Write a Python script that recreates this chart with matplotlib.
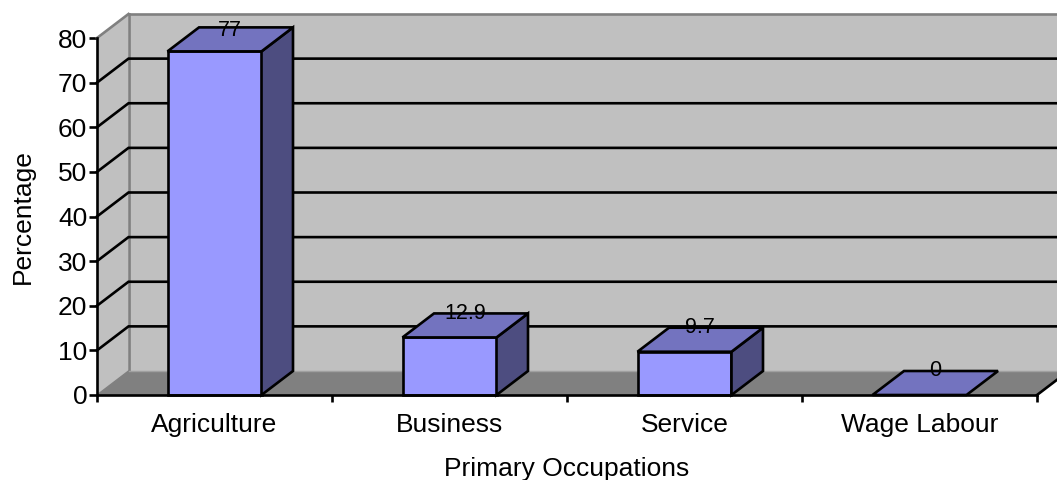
import matplotlib
matplotlib.use('Agg')
import matplotlib.pyplot as plt
from matplotlib.patches import Polygon

plt.rcParams['font.family'] = ['Liberation Sans', 'DejaVu Sans']

occupations = ['Agriculture', 'Business', 'Service', 'Wage Labour']
percentages = [77, 12.9, 9.7, 0]
value_labels = ['77', '12.9', '9.7', '0']
y_ticks = [0, 10, 20, 30, 40, 50, 60, 70, 80]

W, H = 1057, 480
fig = plt.figure(figsize=(W / 100, H / 100), dpi=100)
# front plane of the 3D box, in figure fractions
ax = fig.add_axes([97 / W, 1 - 395 / H, 940 / W, 357 / H])
ax.set_xlim(0, 4)
ax.set_ylim(0, 80)
ax.patch.set_visible(False)

# depth of the box in data units
dx = 31.5 / 235
dy = 24 / (357 / 80)
bar_w = 0.4
lw = 1.9
label_top = 81.6


def face(points, color, edge='none', width=0, z=1):
    ax.add_patch(Polygon(points, closed=True, facecolor=color, edgecolor=edge,
                         linewidth=width, clip_on=False, zorder=z, joinstyle='miter'))


# walls and floor
face([(dx, dy), (4.2, dy), (4.2, 80 + dy), (dx, 80 + dy)], '#c0c0c0')
face([(0, 0), (dx, dy), (dx, 80 + dy), (0, 80)], '#c0c0c0')
face([(0, 0), (4, 0), (4 + dx, dy), (dx, dy)], '#808080', z=1.1)

ax.plot([dx, dx], [dy, 80 + dy], color='#808080', lw=lw, clip_on=False, zorder=2)
ax.plot([dx, 4.2], [80 + dy, 80 + dy], color='#808080', lw=lw, clip_on=False, zorder=2)
ax.plot([0, dx], [80, 80 + dy], color='#808080', lw=lw, clip_on=False, zorder=2)
ax.plot([0, dx], [0, dy], color='#808080', lw=1, clip_on=False, zorder=2)
ax.plot([dx, 4.2], [dy, dy], color='#a0a0a0', lw=1, clip_on=False, zorder=2)
ax.plot([4, 4 + dx], [0, dy], color='black', lw=lw, clip_on=False, zorder=2)

# gridlines across the side wall and the back wall
for v in y_ticks[1:-1]:
    ax.plot([0, dx, 4.2], [v, v + dy, v + dy], color='black', lw=lw,
            clip_on=False, zorder=2, solid_joinstyle='miter')

# bars
for i, val in enumerate(percentages):
    x0 = i + 0.3
    x1 = x0 + bar_w
    if val > 0:
        face([(x0, 0), (x1, 0), (x1, val), (x0, val)], '#9999ff', 'black', lw, 3)
        face([(x1, 0), (x1 + dx, dy), (x1 + dx, val + dy), (x1, val)], '#4d4d80', 'black', lw, 3)
    face([(x0, val), (x1, val), (x1 + dx, val + dy), (x0 + dx, val + dy)], '#7373bf', 'black', lw, 3)
    # the tallest label gets pushed down so it stays near the top of the box
    ax.text((x0 + x1) / 2 + dx / 2, min(val + dy, label_top), value_labels[i], ha='center', va='center',
            fontsize=15.5, color='black', zorder=4, clip_on=False)

for side in ['top', 'right']:
    ax.spines[side].set_visible(False)
for side in ['left', 'bottom']:
    ax.spines[side].set_linewidth(lw)
    ax.spines[side].set_zorder(5)

ax.set_yticks(y_ticks)
ax.set_xticks([0, 1, 2, 3, 4])
ax.set_xticklabels([])
ax.set_xticks([0.5, 1.5, 2.5, 3.5], minor=True)
ax.set_xticklabels(occupations, minor=True)
ax.tick_params(axis='x', which='major', length=5, width=lw, direction='out')
ax.tick_params(axis='x', which='minor', length=0, labelsize=19, pad=13)
ax.tick_params(axis='y', length=6, width=lw, direction='out', labelsize=19, pad=1)

fig.text(23 / W, 1 - 217 / H, 'Percentage', rotation=90, ha='center', va='center', fontsize=19)
fig.text(567 / W, 1 - 469 / H, 'Primary Occupations', ha='center', va='center', fontsize=19)

fig.savefig('out.png', dpi=100, facecolor='white')
